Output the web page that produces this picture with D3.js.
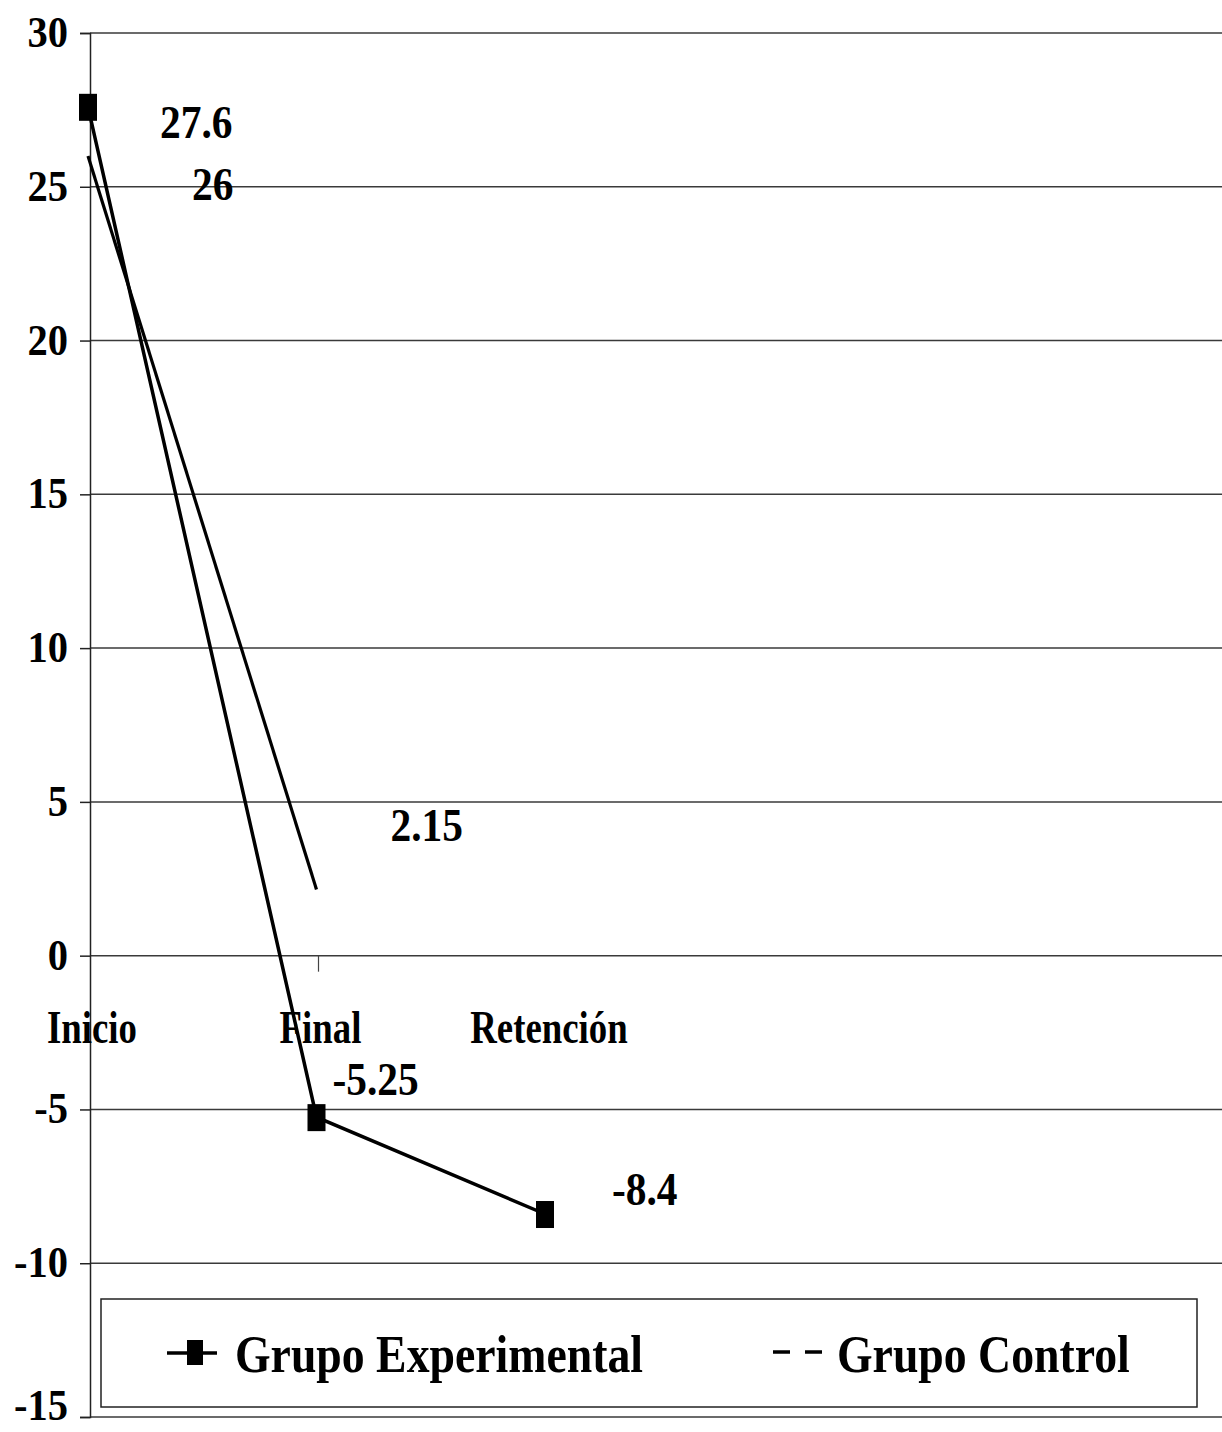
<!DOCTYPE html>
<html><head><meta charset="utf-8">
<script src="https://cdn.jsdelivr.net/npm/d3@7"></script>
<style>body{margin:0;background:#fff}svg{display:block}text{font-family:"Liberation Serif","Times New Roman",serif;font-weight:bold;fill:#000}</style>
</head><body><svg id="c" width="1222" height="1432"></svg>
<script>
const categories = ["Inicio", "Final", "Retención"];
const experimental = [27.6, -5.25, -8.4];
const control = [26, 2.15];
const expLabels = ["27.6", "-5.25", "-8.4"];
const ctrlLabels = ["26", "2.15"];
const yTicks = [-15, -10, -5, 0, 5, 10, 15, 20, 25, 30];
const yTickLabels = ["-15", "-10", "-5", "0", "5", "10", "15", "20", "25", "30"];
const seriesNames = ["Grupo Experimental", "Grupo Control"];

// layout (label offsets relative to their points)
const expOffsets = [[72, 31], [16, -22], [67, -9]];
const ctrlOffsets = [[104, 44], [74, -49]];

const svg = d3.select("#c");
const y = d3.scaleLinear().domain([-15, 30]).range([1417, 33]);
const x = d3.scalePoint().domain(categories).range([88, 545]);
const left = 90, right = 1222;

function squeeze(sel, f) {
  sel.each(function () {
    const w = this.getComputedTextLength();
    d3.select(this).attr("textLength", w * f).attr("lengthAdjust", "spacingAndGlyphs");
  });
}

// gridlines
svg.append("g").selectAll("line").data(yTicks).join("line")
  .attr("x1", left).attr("x2", right)
  .attr("y1", d => y(d)).attr("y2", d => y(d))
  .attr("stroke", "#3a3a3a").attr("stroke-width", 1.5);

// y axis
const ax = svg.append("g").attr("transform", `translate(${left},0)`)
  .call(d3.axisLeft(y).tickValues(yTicks).tickSize(10).tickPadding(12)
    .tickFormat((d, i) => yTickLabels[i]));
ax.select(".domain").attr("stroke", "#222").attr("stroke-width", 1.5);
ax.selectAll(".tick line").attr("stroke", "#222").attr("stroke-width", 1.5);
ax.selectAll(".tick text").attr("font-size", 45).attr("font-family", null)
  .attr("dy", d => d === -15 ? "0.06em" : "0.3em")
  .call(squeeze, 0.9);

// category labels
svg.append("g").selectAll("text").data(categories).join("text")
  .attr("x", d => x(d) + 4).attr("y", 1043).attr("text-anchor", "middle")
  .attr("font-size", 46).text(d => d).call(squeeze, 0.8);

// small category tick
svg.append("line").attr("x1", x("Final") + 2).attr("x2", x("Final") + 2)
  .attr("y1", y(0)).attr("y2", y(0) + 16).attr("stroke", "#444").attr("stroke-width", 1.2);

// lines
const line = d3.line().x((d, i) => x(categories[i])).y(d => y(d));
svg.append("path").datum(control).attr("d", line).attr("fill", "none")
  .attr("stroke", "#000").attr("stroke-width", 3.2);
svg.append("path").datum(experimental).attr("d", line).attr("fill", "none")
  .attr("stroke", "#000").attr("stroke-width", 3.5);

// markers
svg.append("g").selectAll("rect").data(experimental).join("rect")
  .attr("x", (d, i) => x(categories[i]) - 9).attr("y", d => y(d) - 13)
  .attr("width", 18).attr("height", 27).attr("fill", "#000");

// data labels
svg.append("g").selectAll("text").data(expLabels).join("text")
  .attr("x", (d, i) => x(categories[i]) + expOffsets[i][0])
  .attr("y", (d, i) => y(experimental[i]) + expOffsets[i][1])
  .attr("font-size", 46).text(d => d).call(squeeze, 0.9);
svg.append("g").selectAll("text").data(ctrlLabels).join("text")
  .attr("x", (d, i) => x(categories[i]) + ctrlOffsets[i][0])
  .attr("y", (d, i) => y(control[i]) + ctrlOffsets[i][1])
  .attr("font-size", 46).text(d => d).call(squeeze, 0.9);

// legend
const lg = svg.append("g");
lg.append("rect").attr("x", 101).attr("y", 1299).attr("width", 1096).attr("height", 108)
  .attr("fill", "#fff").attr("stroke", "#222").attr("stroke-width", 1.5);
lg.append("line").attr("x1", 167).attr("x2", 217).attr("y1", 1353).attr("y2", 1353)
  .attr("stroke", "#000").attr("stroke-width", 3.5);
lg.append("rect").attr("x", 187).attr("y", 1340).attr("width", 16).attr("height", 25).attr("fill", "#000");
lg.append("line").attr("x1", 773).attr("x2", 823).attr("y1", 1352).attr("y2", 1352)
  .attr("stroke", "#000").attr("stroke-width", 3.5).attr("stroke-dasharray", "17,15");
lg.selectAll("text.l").data(seriesNames).join("text").attr("class", "l")
  .attr("x", (d, i) => i === 0 ? 235 : 837).attr("y", 1372)
  .attr("font-size", 52).text(d => d).call(squeeze, 0.88);
</script></body></html>
